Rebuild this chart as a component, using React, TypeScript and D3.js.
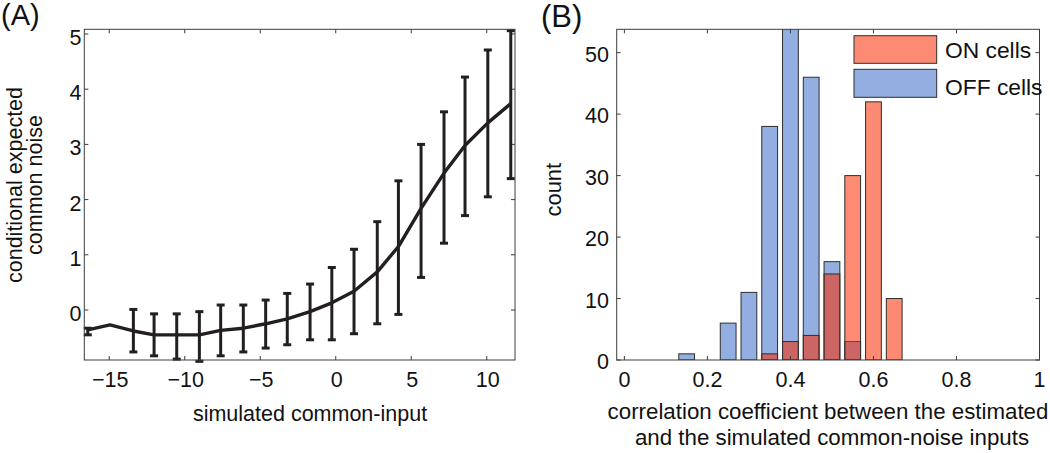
import React from "react";
import * as d3 from "d3";

// ---------- Panel A data ----------
const inputX = [-16.42, -14.95, -13.4, -12.03, -10.53, -9.03, -7.62, -6.12, -4.64, -3.21, -1.7, -0.26, 1.21, 2.75, 4.15, 5.65, 7.17, 8.56, 10.07, 11.59];
const meanNoise = [-0.36, -0.27, -0.38, -0.45, -0.45, -0.45, -0.37, -0.33, -0.25, -0.16, -0.03, 0.13, 0.34, 0.69, 1.15, 1.84, 2.48, 2.98, 3.39, 3.74];
const errHigh: (number | null)[] = [-0.33, null, 0.01, -0.07, -0.07, -0.03, 0.09, 0.09, 0.18, 0.3, 0.47, 0.77, 1.1, 1.6, 2.34, 3.0, 3.59, 4.22, 4.71, 5.06];
const errLow: (number | null)[] = [-0.45, null, -0.76, -0.83, -0.89, -0.93, -0.83, -0.76, -0.69, -0.63, -0.54, -0.54, -0.43, -0.25, -0.08, 0.59, 1.21, 1.71, 2.05, 2.38];
const xTicksA = [-15, -10, -5, 0, 5, 10];
const yTicksA = [0, 1, 2, 3, 4, 5];

// ---------- Panel B data ----------
const binCenters = [0.15, 0.2, 0.25, 0.3, 0.35, 0.4, 0.45, 0.5, 0.55, 0.6, 0.65];
const offCounts = [1, 0, 6, 11, 38, 54, 46, 16, 3, 0, 0];
const onCounts = [0, 0, 0, 0, 1, 3, 4, 14, 30, 42, 10];
const xTicksB = [0, 0.2, 0.4, 0.6, 0.8, 1];
const yTicksB = [0, 10, 20, 30, 40, 50];
const legendLabels = ["ON cells", "OFF cells"];

const FONT = "'Liberation Sans', Arial, Helvetica, sans-serif";
const AXIS = "#3c3c3c";
const INK = "#231f20";
const BLUE = "#93aee0";
const ORANGE = "rgb(251,44,0)";
const ORANGE_ALPHA = 0.55;
const EDGE = "#2e2e2e";

function fmtTick(v: number) {
  return v < 0 ? "\u2212" + Math.abs(v) : String(v);
}

export default function App() {
  // Panel A scales
  const xA = d3.scaleLinear().domain([-16.65, 11.87]).range([84.3, 515]);
  const yA = d3.scaleLinear().domain([-0.906, 5.085]).range([360, 29.3]);
  // Panel B scales
  const xB = d3.scaleLinear().domain([-0.0185, 1]).range([616.7, 1039.5]);
  const yB = d3.scaleLinear().domain([0, 53.8]).range([360, 29.3]);

  const line = d3
    .line<number>()
    .x((_, i) => xA(inputX[i]))
    .y((d) => yA(d));

  const tl = 4;
  const barW = 0.038;
  const cap = 4;

  const [ax0, ax1] = xA.range();
  const [ay0, ay1] = yA.range();
  const [bx0, bx1] = xB.range();
  const [by0, by1] = yB.range();

  return (
    <svg
      width={1050}
      height={453}
      style={{ position: "absolute", left: 0, top: 0, background: "#fff" }}
      fontFamily={FONT}
    >
      <defs>
        <clipPath id="clipB">
          <rect x={bx0} y={by1} width={bx1 - bx0} height={by0 - by1} />
        </clipPath>
      </defs>
      <rect x={0} y={0} width={1050} height={453} fill="#fff" />

      {/* ================= Panel A ================= */}
      <text x={1} y={25} fontSize={29} fill="#111">(A)</text>

      {/* ticks */}
      {xTicksA.map((t) => (
        <g key={"xa" + t}>
          <line x1={xA(t)} x2={xA(t)} y1={ay0} y2={ay0 - tl} stroke={AXIS} strokeWidth={1} />
          <line x1={xA(t)} x2={xA(t)} y1={ay1} y2={ay1 + tl} stroke={AXIS} strokeWidth={1} />
          <text x={xA(t) + 1} y={387.3} fontSize={21.5} textAnchor="middle" fill="#111">
            {fmtTick(t)}
          </text>
        </g>
      ))}
      {yTicksA.map((t) => (
        <g key={"ya" + t}>
          <line x1={ax0} x2={ax0 + tl} y1={yA(t)} y2={yA(t)} stroke={AXIS} strokeWidth={1} />
          <line x1={ax1} x2={ax1 - tl} y1={yA(t)} y2={yA(t)} stroke={AXIS} strokeWidth={1} />
          <text x={81.5} y={yA(t) + 11} fontSize={21.5} textAnchor="end" fill="#111">
            {fmtTick(t)}
          </text>
        </g>
      ))}

      {/* error bars */}
      {inputX.map((x, i) => {
        const hi = errHigh[i];
        const lo = errLow[i];
        if (hi === null || lo === null) return null;
        const cx = xA(x);
        return (
          <g key={"eb" + i} stroke={INK} strokeWidth={3}>
            <line x1={cx} x2={cx} y1={yA(hi)} y2={yA(lo)} />
            <line x1={cx - cap} x2={cx + cap} y1={yA(hi)} y2={yA(hi)} />
            <line x1={cx - cap} x2={cx + cap} y1={yA(lo)} y2={yA(lo)} />
          </g>
        );
      })}
      <path d={line(meanNoise) || ""} fill="none" stroke={INK} strokeWidth={3.4} strokeLinejoin="round" />

      <rect x={ax0} y={ay1} width={ax1 - ax0} height={ay0 - ay1} fill="none" stroke={AXIS} strokeWidth={1} />

      <text x={310} y={421} fontSize={21.5} textAnchor="middle" fill="#111">
        simulated common-input
      </text>
      <text transform="translate(22.4,185) rotate(-90)" fontSize={21.5} textAnchor="middle" fill="#111">
        conditional expected
      </text>
      <text transform="translate(42.2,185) rotate(-90)" fontSize={21.5} textAnchor="middle" fill="#111">
        common noise
      </text>

      {/* ================= Panel B ================= */}
      <text x={541} y={26.5} fontSize={31} fill="#111">(B)</text>

      <g clipPath="url(#clipB)">
        {binCenters.map((c, i) =>
          offCounts[i] > 0 ? (
            <rect
              key={"off" + i}
              x={xB(c - barW / 2)}
              y={yB(offCounts[i])}
              width={xB(c + barW / 2) - xB(c - barW / 2)}
              height={yB(0) - yB(offCounts[i])}
              fill={BLUE}
              stroke={EDGE}
              strokeWidth={1}
            />
          ) : null
        )}
        {binCenters.map((c, i) =>
          onCounts[i] > 0 ? (
            <rect
              key={"on" + i}
              x={xB(c - barW / 2)}
              y={yB(onCounts[i])}
              width={xB(c + barW / 2) - xB(c - barW / 2)}
              height={yB(0) - yB(onCounts[i])}
              fill={ORANGE}
              fillOpacity={ORANGE_ALPHA}
              stroke={EDGE}
              strokeWidth={1}
            />
          ) : null
        )}
      </g>

      {xTicksB.map((t) => (
        <g key={"xb" + t}>
          <line x1={xB(t)} x2={xB(t)} y1={by0} y2={by0 - tl} stroke={AXIS} strokeWidth={1} />
          <line x1={xB(t)} x2={xB(t)} y1={by1} y2={by1 + tl} stroke={AXIS} strokeWidth={1} />
          <text x={xB(t)} y={386.5} fontSize={21.5} textAnchor="middle" fill="#111">
            {String(t)}
          </text>
        </g>
      ))}
      {yTicksB.map((t) => (
        <g key={"yb" + t}>
          <line x1={bx0} x2={bx0 + tl} y1={yB(t)} y2={yB(t)} stroke={AXIS} strokeWidth={1} />
          <line x1={bx1} x2={bx1 - tl} y1={yB(t)} y2={yB(t)} stroke={AXIS} strokeWidth={1} />
          <text x={609} y={yB(t) + 9.2} fontSize={21.5} textAnchor="end" fill="#111">
            {String(t)}
          </text>
        </g>
      ))}

      <rect x={bx0} y={by1} width={bx1 - bx0} height={by0 - by1} fill="none" stroke={AXIS} strokeWidth={1} />

      {/* legend */}
      <rect x={854} y={35.7} width={82.7} height={27.6} fill={ORANGE} fillOpacity={ORANGE_ALPHA} stroke={EDGE} strokeWidth={1} />
      <rect x={854} y={69.3} width={82.7} height={28} fill={BLUE} stroke={EDGE} strokeWidth={1} />
      <text x={945} y={58.3} fontSize={22.8} fill="#111">{legendLabels[0]}</text>
      <text x={945} y={95} fontSize={22.8} fill="#111">{legendLabels[1]}</text>

      <text x={828} y={418.5} fontSize={22.3} textAnchor="middle" fill="#111">
        correlation coefficient between the estimated
      </text>
      <text x={832} y={445} fontSize={22.3} textAnchor="middle" fill="#111">
        and the simulated common-noise inputs
      </text>
      <text transform="translate(560.7,189.7) rotate(-90)" fontSize={22} textAnchor="middle" fill="#111">
        count
      </text>
    </svg>
  );
}
